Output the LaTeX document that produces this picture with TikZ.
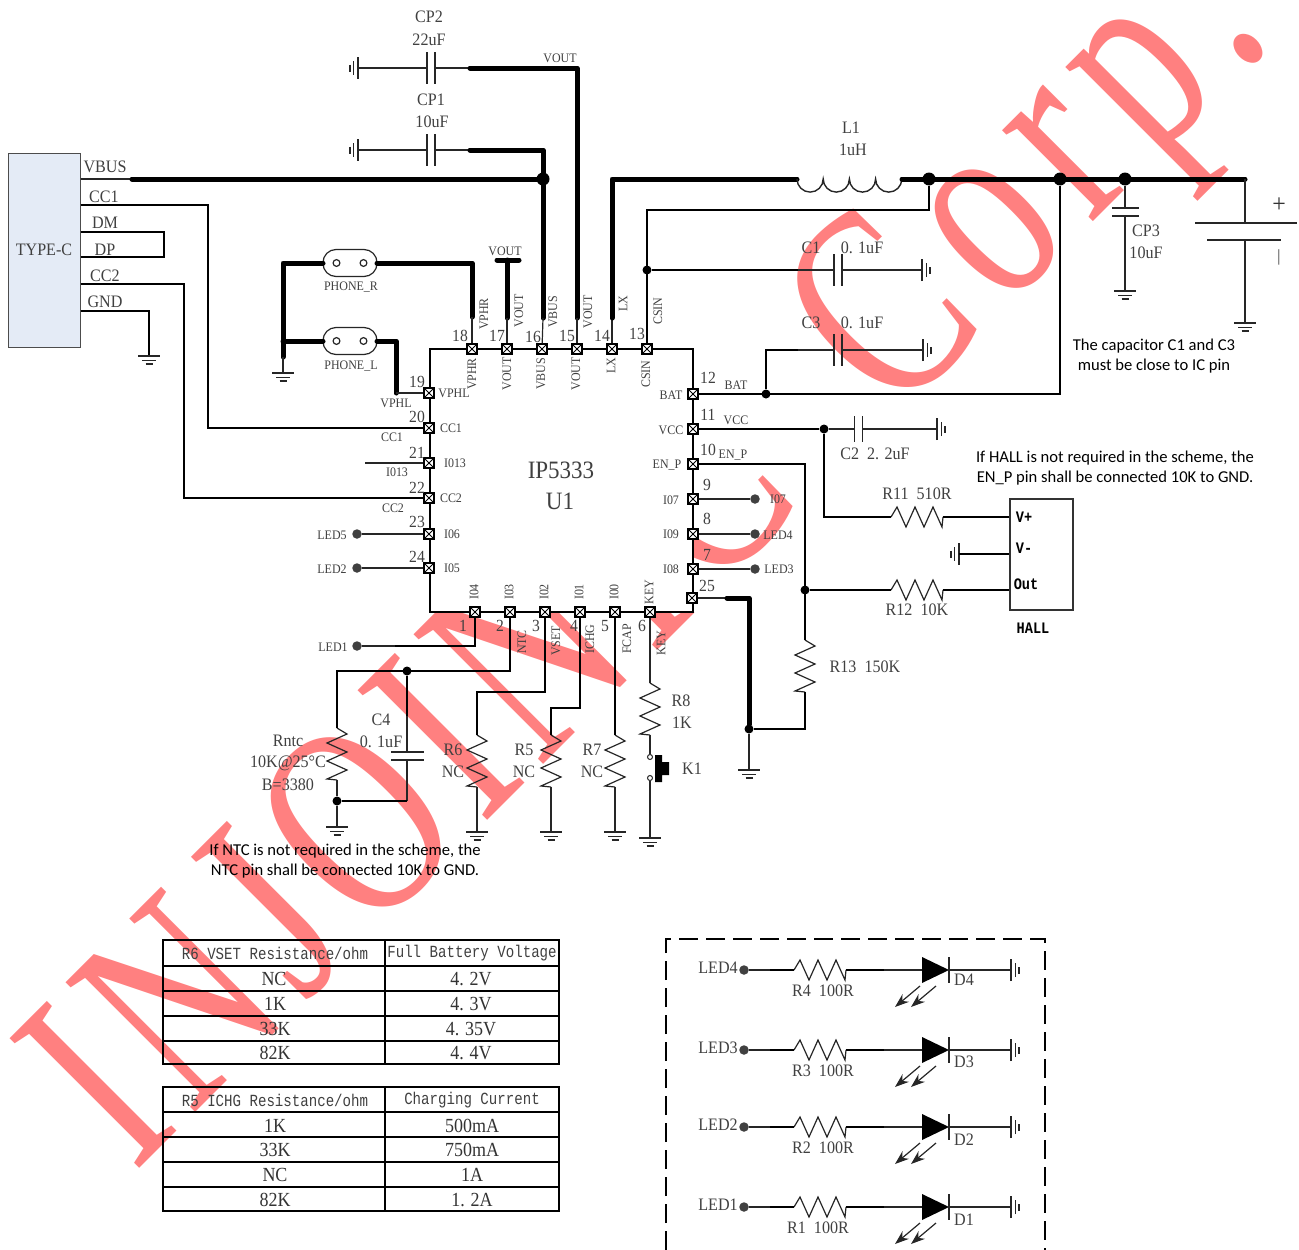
\documentclass[tikz,border=0pt]{standalone}
\usepackage{fontspec}
\setmainfont[FakeStretch=.92]{Liberation Serif}
\newfontfamily\notefont{Carlito}
\newfontfamily\hallfont[FakeStretch=.85]{Liberation Mono}
\newfontfamily\headfont[FakeStretch=.83]{Liberation Mono}
\newfontfamily\cellfont[FakeStretch=.9]{Liberation Serif}
\newfontfamily\markfont[FakeStretch=.72,LetterSpace=5]{Liberation Serif}
\newfontfamily\corpfont[FakeStretch=.72,LetterSpace=7.5]{Liberation Serif}
\usetikzlibrary{arrows.meta}
\definecolor{markred}{HTML}{FF8080}
\definecolor{usbblue}{HTML}{E4EBF6}
\tikzset{
  wire/.style={line width=1.2pt, black!85},
  bus/.style={line width=2pt, black},
  fat/.style={line width=5pt, black, line cap=round, line join=round},
  lbl/.style={font=\fontsize{13}{13}\selectfont, text=black!75, inner sep=0},
  val/.style={font=\fontsize{17.5}{17.5}\selectfont, text=black!75, inner sep=0},
  cell/.style={font=\cellfont\fontsize{20}{20}\selectfont, text=black!80, inner sep=0},
  headcell/.style={font=\headfont\fontsize{17}{17}\selectfont, text=black!75, inner sep=0},
  note/.style={font=\notefont\fontsize{16.6}{20}\selectfont, text=black, inner sep=0},
  hall/.style={font=\hallfont\bfseries\fontsize{16}{16}\selectfont, inner sep=0},
  pinbox/.style={draw=black, line width=1.1pt, fill=white, inner sep=0, minimum size=10pt,
    path picture={\draw[line width=.9pt] (path picture bounding box.north west)--(path picture bounding box.south east)
      (path picture bounding box.north east)--(path picture bounding box.south west);}},
  dot/.style={circle, fill=black, inner sep=0, minimum size=9pt},
  bigdot/.style={circle, fill=black, inner sep=0, minimum size=13pt},
  leddot/.style={circle, fill=black!75, inner sep=0, minimum size=9.5pt},
  resistor/.pic={
    \draw[wire] (-26,0)--(-20,-10)--(-11,10)--(-2,-10)--(7,10)--(16,-10)--(25,10)--(26,0);
    \coordinate (-a) at (-26,0);
    \coordinate (-b) at (26,0);
  },
  capac/.pic={
    \draw[wire] (-4,-#1)--(-4,#1) (4,-#1)--(4,#1);
    \coordinate (-a) at (-4,0);
    \coordinate (-b) at (4,0);
  },
  gnd/.pic={
    \draw[wire] (-11,0)--(11,0) (-7,4.5)--(7,4.5) (-3.5,8)--(3.5,8);
    \coordinate (-a) at (0,0);
  },
  stadium/.pic={
    \draw[wire, fill=white, rounded corners=13pt] (-27,-13.5) rectangle (27,13.5);
    \draw[wire, fill=white] (-13.5,0) circle (3.4) (13.5,0) circle (3.4);
    \coordinate (-a) at (-27,0);
    \coordinate (-b) at (27,0);
  },
}
\begin{document}
\begin{tikzpicture}[x=1pt,y=-1pt]
\useasboundingbox (0,0) rectangle (1299,1250);
% watermark behind the schematic
\node[rotate=45, anchor=base west, inner sep=0, text=markred, font=\markfont\fontsize{280}{280}\selectfont] (wmark) at (134,1174) {INJOINIC};
\node[rotate=45, anchor=base east, inner sep=0, text=markred, font=\corpfont\fontsize{280}{280}\selectfont] (wcorp) at (1275,40) {Corp.};
\fill[white] (429,349) rectangle (693,612);
\fill[white] (693,394) rectangle (715,440);
% usb connector
\node[draw=black!70, fill=usbblue, line width=1pt, minimum width=72pt, minimum height=194pt, inner sep=0] (usb) at (44,250) {};
\node[val] (usbname) at (44,250) {TYPE-C};
\foreach \name/\x/\y/\txt in {a/105/167/VBUS, b/104/197/CC1, c/105/223/DM, d/105/250/DP, e/105/276/CC2, f/105/302/GND} {
 \node[val] (usb\name) at (\x,\y) {\txt};
}
% ic
\draw[bus] (429.5,349) rectangle (693,612);
\node[font=\fontsize{25}{25}\selectfont, text=black!75, inner sep=0] (icname) at (561,470) {IP5333};
\node[font=\fontsize{25}{25}\selectfont, text=black!75, inner sep=0] (icref) at (560,501) {U1};
\foreach \n/\x/\y in {18/472/349, 17/507/349, 16/542/349, 15/577/349, 14/612/349, 13/647/349,
  19/429/393, 20/429/428, 21/429/463, 22/429/498, 23/429/534, 24/429/568,
  12/693/394, 11/693/429, 10/693/464, 9/693/499, 8/693/534, 7/693/569, 25/692/598,
  1/475/612, 2/510/612, 3/545/612, 4/580/612, 5/615/612, 6/650/612} {
 \node[pinbox] (p\n) at (\x,\y) {};
}
\foreach \n/\x/\y in {18/460/336, 17/497/336, 16/533/337, 15/567/336, 14/602/336, 13/637/334,
  19/417/382, 20/417/417, 21/417/453, 22/417/488, 23/417/522, 24/417/557,
  12/708/378, 11/708/415, 10/708/450, 9/707/485, 8/707/519, 7/707/555, 25/707/586,
  1/463/626, 2/500/626, 3/536/626, 4/574/626, 5/605/626, 6/642/626} {
 \node[font=\fontsize{17}{17}\selectfont, text=black!75, inner sep=0] (n\n) at (\x,\y) {\n};
}
\foreach \name/\x/\y/\txt in {a/454/393/VPHL, b/451/428/CC1, c/455/463/I013, d/451/498/CC2, e/452/534/I06, f/452/568/I05,
  g/671/395/BAT, h/671/430/VCC, i/667/465/EN\_P, j/671/500/I07, k/671/534/I09, l/671/569/I08,
  m/396/403/VPHL, n/392/437/CC1, o/397/472/I013, p/393/508/CC2,
  q/736/385/BAT, r/736/420/VCC, s/733/455/EN\_P, t/778/499/I07, u/778/535/LED4, v/779/569/LED3,
  w/332/535/LED5, x/332/569/LED2, y/333/647/LED1} {
 \node[lbl] (side\name) at (\x,\y) {\txt};
}
\foreach \name/\x/\y/\txt in {a/472/374/VPHR, b/507/374/VOUT, c/541/374/VBUS, d/576/374/VOUT, e/611/366/LX, f/646/374/CSIN,
  g/484/314/VPHR, h/519/311/VOUT, i/553/312/VBUS, j/588/312/VOUT, k/623/304/LX, l/658/311/CSIN,
  m/474/592/I04, n/509/592/I03, o/544/592/I02, p/579/592/I01, q/614/592/I00, r/649/592/KEY,
  s/522/642/NTC, t/556/641/VSET, u/590/639/ICHG, v/627/639/FCAP, w/661/643/KEY} {
 \node[lbl, rotate=90] (up\name) at (\x,\y) {\txt};
}
% usb wires
\coordinate (hub) at (132,179);
\node[bigdot] (jvbus) at (543,179) {};
\draw[wire] (usb.east |- hub)--(hub);
\draw[fat] (hub)--(jvbus);
\draw[bus] (usb.east |- 0,205)--(208,205)--(208,428)--(p20);
\draw[bus] (usb.east |- 0,232)--(164,232)--(164,257)--(usb.east |- 0,257);
\draw[bus] (usb.east |- 0,284)--(184,284)--(184,498)--(p22);
\draw[bus] (usb.east |- 0,311)--(149,311)--(149,356);
\pic (gusb) at (149,356) {gnd};
% phone jacks
\pic (jackr) at (350,263) {stadium};
\pic (jackl) at (350,341) {stadium};
\node[lbl] (jackrname) at (351,287) {PHONE\_R};
\node[lbl] (jacklname) at (351,366) {PHONE\_L};
\coordinate (rail) at (283,341);
\draw[fat] (jackr-a)--(283,263)--(283,357);
\draw[fat] (rail)--(jackl-a);
\draw[fat] (jackr-b)--(472,263)--(472,317);
\draw[wire] (472,317)--(p18);
\draw[fat] (jackl-b)--(396,341)--(396,393);
\draw[wire] (396,393)--(p19);
\draw[wire] (283,357)--(283,373);
\pic (gjack) at (283,373) {gnd};
% top caps and buses
\foreach \name/\y/\len in {cptwo/68/16, cpone/150/16} {
 \pic (\name) at (431,\y) {capac=\len};
 \pic[rotate=-90] (g\name) at (358,\y) {gnd};
 \draw[wire] (g\name-a)--(\name-a);
 \draw[wire] (\name-b)--(470,\y);
}
\node[val] (cptwoname) at (429,17) {CP2};
\node[val] (cptwoval) at (429,40) {22uF};
\node[val] (cponename) at (431,100) {CP1};
\node[val] (cponeval) at (432,122) {10uF};
\node[lbl] (vouta) at (560,58) {VOUT};
\node[lbl] (voutb) at (505,251) {VOUT};
\draw[fat] (470,68)--(577,68)--(577,318);
\draw[wire] (577,318)--(p15);
\draw[fat] (470,150)--(543,150)--(543,318);
\draw[wire] (543,318)--(p16);
\draw[fat] (497,260)--(519,260);
\draw[fat] (507,260)--(507,318);
\draw[wire] (507,318)--(p17);
% inductor and battery rail
\coordinate (lstart) at (797,179);
\coordinate (lstop) at (902,179);
\node[val] (lname) at (851,128) {L1};
\node[val] (lval) at (853,150) {1uH};
\draw[wire] (p14)--(612,318);
\draw[fat] (612,318)--(612,179)--(lstart);
\draw[line width=1.4pt, black!85] (lstart) arc (180:0:13.1) arc (180:0:13.1) arc (180:0:13.1) arc (180:0:13.1);
\draw[fat] (lstop)--(1245,179);
\node[bigdot] (ja) at (929,179) {};
\node[bigdot] (jb) at (1060,179) {};
\node[bigdot] (jc) at (1125,179) {};
\node[dot] (jd) at (647,270) {};
\node[dot] (je) at (766,394) {};
\node[dot] (jf) at (824,429) {};
\node[dot] (jg) at (805,590) {};
\node[dot] (jh) at (749,729) {};
\draw[bus] (ja)--(929,210)--(647,210)--(p13);
\draw[bus] (p12)--(1060,394)--(jb);
\pic (cc1) at (838,270) {capac=16};
\pic (cc3) at (838,350) {capac=16};
\pic[rotate=90] (gc1) at (922,270) {gnd};
\pic[rotate=90] (gc3) at (923,350) {gnd};
\draw[bus] (jd)--(798,270);
\draw[wire] (798,270)--(cc1-a);
\draw[wire] (cc1-b)--(gc1-a);
\draw[bus] (je)--(766,350)--(798,350);
\draw[wire] (798,350)--(cc3-a);
\draw[wire] (cc3-b)--(gc3-a);
\node[val] (coname) at (811,248) {C1};
\node[val] (coval) at (862,248) {0. 1uF};
\node[val] (cthname) at (811,323) {C3};
\node[val] (cthval) at (862,323) {0. 1uF};
% cp3 and battery
\pic[rotate=-90] (cc5) at (1125,212) {capac=13.5};
\pic (gc5) at (1125,291) {gnd};
\draw[wire] (jc)--(cc5-a);
\draw[wire] (cc5-b)--(gc5-a);
\node[val] (cpthname) at (1146,231) {CP3};
\node[val] (cpthval) at (1146,253) {10uF};
\coordinate (batt) at (1245,179);
\coordinate (batb) at (1245,323);
\draw[wire] (batt)--(1245,223);
\draw[wire] (1195,223)--(1297,223);
\draw[wire] (1207,240)--(1281,240);
\draw[wire] (1245,240)--(batb);
\pic (gbat) at (batb) {gnd};
\node[font=\fontsize{26}{26}\selectfont, text=black!80, inner sep=0] (batplus) at (1279,205) {+};
\node[font=\fontsize{17}{17}\selectfont, text=black!80, inner sep=0] (batminus) at (1279,257) {|};
\node[note, align=center] (closenote) at (1154,356) {The capacitor C1 and C3\\must be close to IC pin};
% vcc and hall
\pic (cc2) at (858.5,429) {capac=13};
\pic[rotate=90] (gc2) at (937,429) {gnd};
\draw[bus] (p11)--(jf);
\draw[wire] (jf)--(cc2-a);
\draw[wire] (cc2-b)--(gc2-a);
\node[val] (ctwoname) at (875,454) {C2\ \ 2. 2uF};
\node[draw=black!80, line width=1.2pt, minimum width=63pt, minimum height=111pt, inner sep=0] (hallbox) at (1041.5,554.5) {};
\node[hall] (hallp) at (1024,517) {V+};
\node[hall] (halln) at (1024,548) {V-};
\node[hall] (hallo) at (1026,584) {Out};
\node[hall] (hallname) at (1033,628) {HALL};
\pic (r11) at (917,517) {resistor};
\pic (r12) at (917,590) {resistor};
\draw[bus] (jf)--(824,517)--(r11-a);
\draw[bus] (r11-b)--(hallbox.west |- 0,517);
\draw[bus] (jg)--(r12-a);
\draw[bus] (r12-b)--(hallbox.west |- 0,590);
\pic[rotate=-90] (ghall) at (959,554) {gnd};
\draw[bus] (ghall-a)--(hallbox.west |- 0,554);
\node[val] (relname) at (917,494) {R11\ \ 510R};
\node[val] (rtwname) at (917,610) {R12\ \ 10K};
\node[note, align=center] (hallnote) at (1115,468) {If HALL is not required in the scheme, the\\EN\_P pin shall be connected 10K to GND.};
\pic[rotate=-90] (r13) at (805,666) {resistor};
\draw[bus] (p10)--(805,464)--(r13-a);
\draw[bus] (r13-b)--(805,729)--(jh);
\node[val] (rthname) at (865,667) {R13\ \ 150K};
\draw[wire] (p25)--(727,598);
\draw[fat] (727,598)--(749,598)--(jh);
\draw[wire] (jh)--(749,770);
\pic (gkey) at (749,770) {gnd};
% led stubs
\foreach \name/\pin/\x/\y in {a/9/755/499, b/8/755/534, c/7/755/569, d/23/357/534, e/24/357/568} {
 \node[leddot] (stub\name) at (\x,\y) {};
 \draw[wire] (p\pin)--(stub\name);
}
\node[leddot] (stubf) at (357,646) {};
\draw[bus] (p1)--(475,646)--(395,646);
\draw[wire] (395,646)--(stubf);
\draw[wire] (p21)--(365,463);
% bottom network
\node[dot] (ji) at (407,671) {};
\node[dot] (jj) at (337,801) {};
\pic[rotate=-90] (rntc) at (337,754) {resistor};
\draw[bus] (p2)--(510,671)--(337,671)--(rntc-a);
\draw[wire] (rntc-b)--(jj);
\pic (gntc) at (337,827) {gnd};
\draw[wire] (jj)--(gntc-a);
\pic[rotate=-90] (cc4) at (407,756) {capac=16.5};
\draw[bus] (ji)--(407,716);
\draw[wire] (407,716)--(cc4-a);
\draw[wire] (cc4-b)--(407,801);
\draw[bus] (407,801)--(jj);
\node[val] (rntcname) at (288,741) {Rntc};
\node[val] (rntcval) at (288,763) {10K@25\textdegree C};
\node[val] (rntcb) at (288,785) {B=3380};
\node[val] (cfname) at (381,720) {C4};
\node[val] (cfval) at (381,742) {0. 1uF};
\foreach \name/\rx/\y in {six/477/832, five/551/832, seven/615/832} {
 \pic[rotate=-90] (r\name) at (\rx,761) {resistor};
 \pic (g\name) at (\rx,\y) {gnd};
 \draw[wire] (r\name-b)--(g\name-a);
}
\draw[bus] (p3)--(545,692)--(477,692)--(rsix-a);
\draw[bus] (p4)--(580,708)--(551,708)--(rfive-a);
\draw[bus] (p5)--(rseven-a);
\foreach \name/\x/\txt in {a/453/R6, b/524/R5, c/592/R7} {
 \node[val] (res\name) at (\x,750) {\txt};
 \node[val] (nc\name) at (\x,772) {NC};
}
\pic[rotate=-90] (reight) at (650,709) {resistor};
\draw[wire] (p6)--(reight-a);
\node[circle, draw=black!85, line width=1pt, fill=white, minimum size=5pt, inner sep=0] (kup) at (650,757) {};
\node[circle, draw=black!85, line width=1pt, fill=white, minimum size=5pt, inner sep=0] (kdn) at (650,778) {};
\draw[wire] (reight-b)--(kup);
\pic (gsw) at (650,838) {gnd};
\draw[wire] (kdn)--(gsw-a);
\fill[black] (655,755) rectangle (662,782) (662,762) rectangle (669,775);
\node[val] (reightname) at (681,701) {R8};
\node[val] (reightval) at (682,723) {1K};
\node[val] (swname) at (692,769) {K1};
\node[note, align=center] (ntcnote) at (345,861) {If NTC is not required in the scheme, the\\NTC pin shall be connected 10K to GND.};
% tables
\foreach \top/\a/\b/\c/\d in {940/966/991/1016/1041, 1087/1112/1137/1162/1187} {
 \draw[line width=1.8pt] (163,\top) rectangle (559,\top+124);
 \draw[line width=1.8pt] (385,\top)--(385,\top+124);
 \foreach \rowy in {\a,\b,\c,\d} {
  \draw[line width=1.8pt] (163,\rowy)--(559,\rowy);
 }
}
\node[headcell] (heada) at (275,953) {R6 VSET Resistance/ohm};
\node[headcell] (headb) at (472,953) {Full Battery Voltage};
\node[headcell] (headc) at (275,1100) {R5 ICHG Resistance/ohm};
\node[headcell] (headd) at (472,1100) {Charging Current};
\foreach \name/\x/\y/\txt in {c/274/979/NC, d/275/1004/1K, e/275/1029/33K, f/275/1053/82K,
  g/471/979/4. 2V, h/471/1004/4. 3V, i/471/1029/4. 35V, j/471/1053/4. 4V,
  m/275/1126/1K, n/275/1150/33K, o/275/1175/NC, p/275/1200/82K,
  q/472/1126/500mA, r/472/1150/750mA, s/472/1175/1A, t/472/1200/1. 2A} {
 \node[cell] (cell\name) at (\x,\y) {\txt};
}
% led block
\draw[line width=2pt, dash pattern=on 19pt off 8pt] (666,1250)--(666,939)--(1045,939)--(1045,1250);
\foreach \n/\y/\dy/\rx in {4/970/10/823, 3/1050/12/823, 2/1127/13/823, 1/1207/13/818} {
 \node[leddot] (ledin\n) at (744,\y) {};
 \node[val] (ledname\n) at (718,\y-2) {LED\n};
 \pic (rled\n) at (820,\y) {resistor};
 \draw[wire] (ledin\n)--(rled\n-a);
 \draw[bus] (770,\y)--(rled\n-a);
 \draw[bus] (rled\n-b)--(884,\y);
 \node[val] (rledname\n) at (\rx,\y+21) {R\n\ \ 100R};
 \coordinate (dtip\n) at (949,\y);
 \fill[black] (922,\y-13)--(dtip\n)--(922,\y+13)--cycle;
 \draw[wire] (884,\y)--(922,\y);
 \draw[wire] (949,\y-13)--(949,\y+13);
 \pic[rotate=90] (gled\n) at (1011,\y) {gnd};
 \draw[wire] (dtip\n)--(gled\n-a);
 \node[val] (dname\n) at (964,\y+\dy) {D\n};
 \foreach \ax in {920,936} {
  \draw[wire, -{Stealth[length=14pt,width=10pt]}] (\ax,\y+16)--(\ax-25,\y+37);
 }
}
\end{tikzpicture}
\end{document}
